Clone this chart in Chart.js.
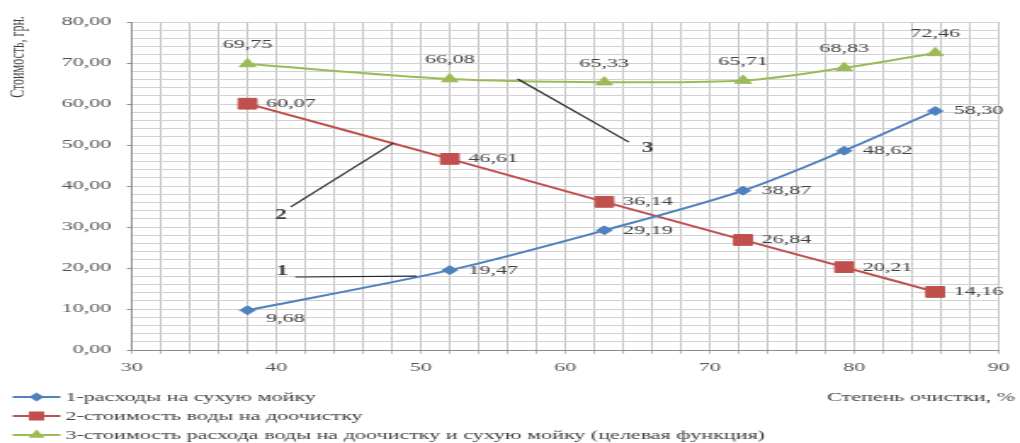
<!DOCTYPE html>
<html>
<head>
<meta charset="utf-8">
<script src="https://cdn.jsdelivr.net/npm/chart.js@4.4.1/dist/chart.umd.min.js"></script>
<style>
  html, body { margin: 0; padding: 0; background: #fff; overflow: hidden; }
  /* the chart is laid out narrow and widened as a whole */
  #wrap { position: absolute; left: 0; top: 0; width: 600px; height: 443px;
          transform: scaleX(1.7); transform-origin: 0 0; }
</style>
</head>
<body>
<div id="wrap"><canvas id="chart"></canvas></div>
<script>
// Степень очистки, %
const purification = [38, 52, 62.7, 72.3, 79.3, 85.6];
// 1 – расходы на сухую мойку, грн.
const dryWashCost = [9.68, 19.47, 29.19, 38.87, 48.62, 58.30];
// 2 – стоимость воды на доочистку, грн.
const waterCost = [60.07, 46.61, 36.14, 26.84, 20.21, 14.16];
// 3 – целевая функция (сумма 1 и 2), грн.
const targetCost = [69.75, 66.08, 65.33, 65.71, 68.83, 72.46];

const seriesNames = [
  '1-расходы на сухую мойку',
  '2-стоимость воды на доочистку',
  '3-стоимость расхода воды на доочистку и сухую мойку (целевая функция)'
];
const calloutTexts = ['1', '2', '3'];
const yTitle = 'Стоимость, грн.';
const xTitle = 'Степень очистки, %';

const fmt = v => v.toFixed(2).replace('.', ',');
const toPoints = vals => purification.map((p, i) => ({ x: p, y: vals[i] }));

const SERIF = '"Liberation Serif", "Times New Roman", serif';
const TEXT = '#404040';

Chart.defaults.font.family = SERIF;
Chart.defaults.color = TEXT;

const decorations = {
  id: 'decorations',
  afterDatasetsDraw(chart, args, opts) {
    const { ctx, scales: { x, y } } = chart;
    ctx.save();
    // leader lines with series numbers
    ctx.strokeStyle = '#262626';
    ctx.lineWidth = 1.2;
    ctx.fillStyle = TEXT;
    ctx.font = 'bold 14px ' + SERIF;
    ctx.textAlign = 'center';
    ctx.textBaseline = 'middle';
    opts.callouts.forEach((c, i) => {
      ctx.beginPath();
      ctx.moveTo(x.getPixelForValue(c.from[0]), y.getPixelForValue(c.from[1]));
      ctx.lineTo(x.getPixelForValue(c.to[0]), y.getPixelForValue(c.to[1]));
      ctx.stroke();
      ctx.fillText(calloutTexts[i], x.getPixelForValue(c.at[0]), y.getPixelForValue(c.at[1]));
    });
    // value labels
    ctx.font = '13px ' + SERIF;
    chart.data.datasets.forEach((ds, i) => {
      const meta = chart.getDatasetMeta(i);
      meta.data.forEach((pt, j) => {
        const v = ds.data[j].y;
        const dy = (ds.labelDy && ds.labelDy[j]) || 0;
        if (ds.labelAt === 'above') {
          ctx.textAlign = 'center';
          ctx.fillText(fmt(v), pt.x, pt.y - 19 + dy);
        } else {
          ctx.textAlign = 'left';
          ctx.fillText(fmt(v), pt.x + 11, pt.y + dy);
        }
      });
    });
    ctx.restore();
  },
  afterDraw(chart, args, opts) {
    const { ctx } = chart;
    ctx.save();
    ctx.fillStyle = TEXT;
    // axis titles
    ctx.font = '12px ' + SERIF;
    ctx.textAlign = 'center';
    ctx.textBaseline = 'middle';
    ctx.save();
    ctx.translate(11, 57);
    ctx.rotate(-Math.PI / 2);
    ctx.fillText(yTitle, 0, 0);
    ctx.restore();
    ctx.font = '13px ' + SERIF;
    ctx.textAlign = 'right';
    ctx.fillText(xTitle, 597, 398);
    // legend
    ctx.textAlign = 'left';
    chart.data.datasets.forEach((ds, i) => {
      const rowY = 397 + i * 19;
      ctx.strokeStyle = ds.borderColor;
      ctx.lineWidth = 2;
      ctx.beginPath();
      ctx.moveTo(7.5, rowY);
      ctx.lineTo(35.5, rowY);
      ctx.stroke();
      ctx.fillStyle = ds.pointBackgroundColor;
      ctx.strokeStyle = ds.pointBorderColor;
      Chart.helpers.drawPoint(ctx, {
        pointStyle: ds.pointStyle, radius: ds.legendRadius, rotation: 0, borderWidth: 1
      }, 21.5, rowY);
      ctx.fillStyle = TEXT;
      ctx.fillText(ds.label, 38.5, rowY + 1);
    });
    ctx.restore();
  }
};

const BLUE = '#4F81BD', RED = '#C0504D', GREEN = '#9BBB59';

new Chart(document.getElementById('chart'), {
  type: 'line',
  data: {
    datasets: [
      {
        label: seriesNames[0], data: toPoints(dryWashCost),
        borderColor: BLUE, backgroundColor: BLUE,
        pointBackgroundColor: BLUE, pointBorderColor: BLUE,
        pointStyle: 'rectRot', pointRadius: 4.5, legendRadius: 3,
        labelAt: 'right', labelDy: [8, 0, 0, 0, 0, 0]
      },
      {
        label: seriesNames[1], data: toPoints(waterCost),
        borderColor: RED, backgroundColor: RED,
        pointBackgroundColor: RED, pointBorderColor: RED,
        pointStyle: 'rect', pointRadius: 7.6, legendRadius: 5,
        labelAt: 'right'
      },
      {
        label: seriesNames[2], data: toPoints(targetCost),
        borderColor: GREEN, backgroundColor: GREEN,
        pointBackgroundColor: GREEN, pointBorderColor: GREEN,
        pointStyle: 'triangle', pointRadius: 5.5, legendRadius: 3.5,
        labelAt: 'above'
      }
    ]
  },
  options: {
    responsive: true,
    maintainAspectRatio: false,
    animation: false,
    devicePixelRatio: 1,
    layout: { padding: { left: 0, right: 8.8, top: 22, bottom: 63 } },
    elements: {
      line: { borderWidth: 2, tension: 0.3 },
      point: { borderWidth: 1, hoverRadius: 5 }
    },
    plugins: {
      legend: { display: false },
      tooltip: { enabled: false },
      decorations: {
        callouts: [
          { from: [41.3, 17.8], to: [49.7, 18.0], at: [40.4, 19.2] },
          { from: [41.0, 34.9], to: [48.1, 50.5], at: [40.3, 32.8] },
          { from: [56.7, 66.1], to: [64.4, 50.7], at: [65.7, 49.2] }
        ]
      }
    },
    scales: {
      x: {
        type: 'linear', min: 30, max: 90,
        afterFit: s => { s.height = 30; },
        ticks: {
          stepSize: 2, maxTicksLimit: 100, autoSkip: false, maxRotation: 0, padding: 6,
          color: '#555', font: { size: 13 },
          callback: v => (v % 10 === 0 ? String(v) : '')
        },
        grid: {
          color: '#c4c4c4', lineWidth: 1, tickLength: 4,
          tickColor: '#bdbdbd'
        },
        border: { color: '#8c8c8c', width: 1 }
      },
      y: {
        type: 'linear', min: 0, max: 80,
        afterFit: s => { s.width = 77.6; },
        ticks: {
          stepSize: 2, maxTicksLimit: 100, autoSkip: false, padding: 9,
          color: '#555', font: { size: 13 },
          callback: v => (v % 10 === 0 ? fmt(v) : '')
        },
        grid: {
          color: '#d2d2d2', lineWidth: 1, tickLength: 3,
          tickColor: ctx => (ctx.tick && ctx.tick.value % 10 === 0 ? '#8c8c8c' : 'rgba(0,0,0,0)')
        },
        border: { color: '#8c8c8c', width: 1 }
      }
    }
  },
  plugins: [decorations]
});
</script>
</body>
</html>
